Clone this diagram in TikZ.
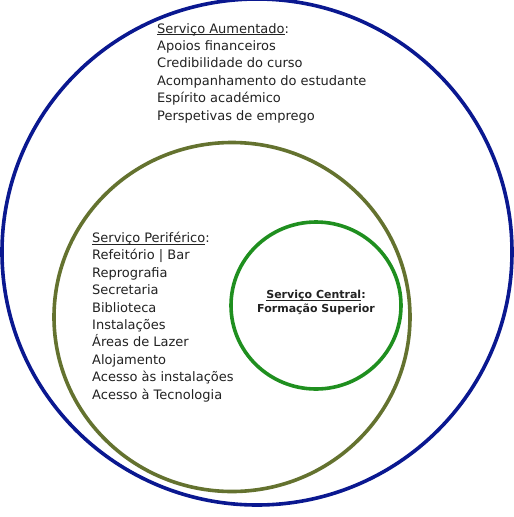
\documentclass[tikz,border=0pt]{standalone}
\usepackage{fontspec}
\usetikzlibrary{shapes.geometric}
\setmainfont{DejaVu Sans}
\definecolor{outerblue}{HTML}{0A1890}
\definecolor{olive}{HTML}{64722F}
\definecolor{cgreen}{HTML}{1F8F1F}
\definecolor{txt}{HTML}{222222}
\newcommand{\ulx}[1]{\underline{\smash{#1}}}
\tikzset{
  ring/.style={line width=3.6pt, ellipse, inner sep=0pt},
  listtext/.style={anchor=base west, align=left, inner sep=0pt, text=txt,
    font=\fontsize{13}{17.4}\selectfont},
  centertext/.style={anchor=base, align=center, inner sep=0pt, text=txt,
    font=\fontsize{11}{13.8}\selectfont\bfseries},
}
\begin{document}
\begin{tikzpicture}[x=1pt,y=-1pt]
\useasboundingbox (0,0) rectangle (514,517);
\fill[white] (0,0) rectangle (514,517);
\node[ring, draw=outerblue, minimum width=510pt, minimum height=506pt] (outer) at (257,252) {};
\node[ring, draw=olive, minimum width=356pt, minimum height=349pt] (peri) at (232,317) {};
\node[ring, draw=cgreen, minimum width=170pt, minimum height=167pt] (central) at (316,305.5) {};
% base anchor = baseline of the last line
\node[listtext] (aument) at (157,120) {\ulx{Serviço Aumentado}:\\
Apoios financeiros\\
Credibilidade do curso\\
Acompanhamento do estudante\\
Espírito académico\\
Perspetivas de emprego};
\node[listtext] (perif) at (92,399) {\ulx{Serviço Periférico}:\\
Refeitório | Bar\\
Reprografia\\
Secretaria\\
Biblioteca\\
Instalações\\
Áreas de Lazer\\
Alojamento\\
Acesso às instalações\\
Acesso à Tecnologia};
\node[centertext] (centr) at (316,312.7) {\ulx{Serviço Central}:\\Formação Superior};
\end{tikzpicture}
\end{document}
